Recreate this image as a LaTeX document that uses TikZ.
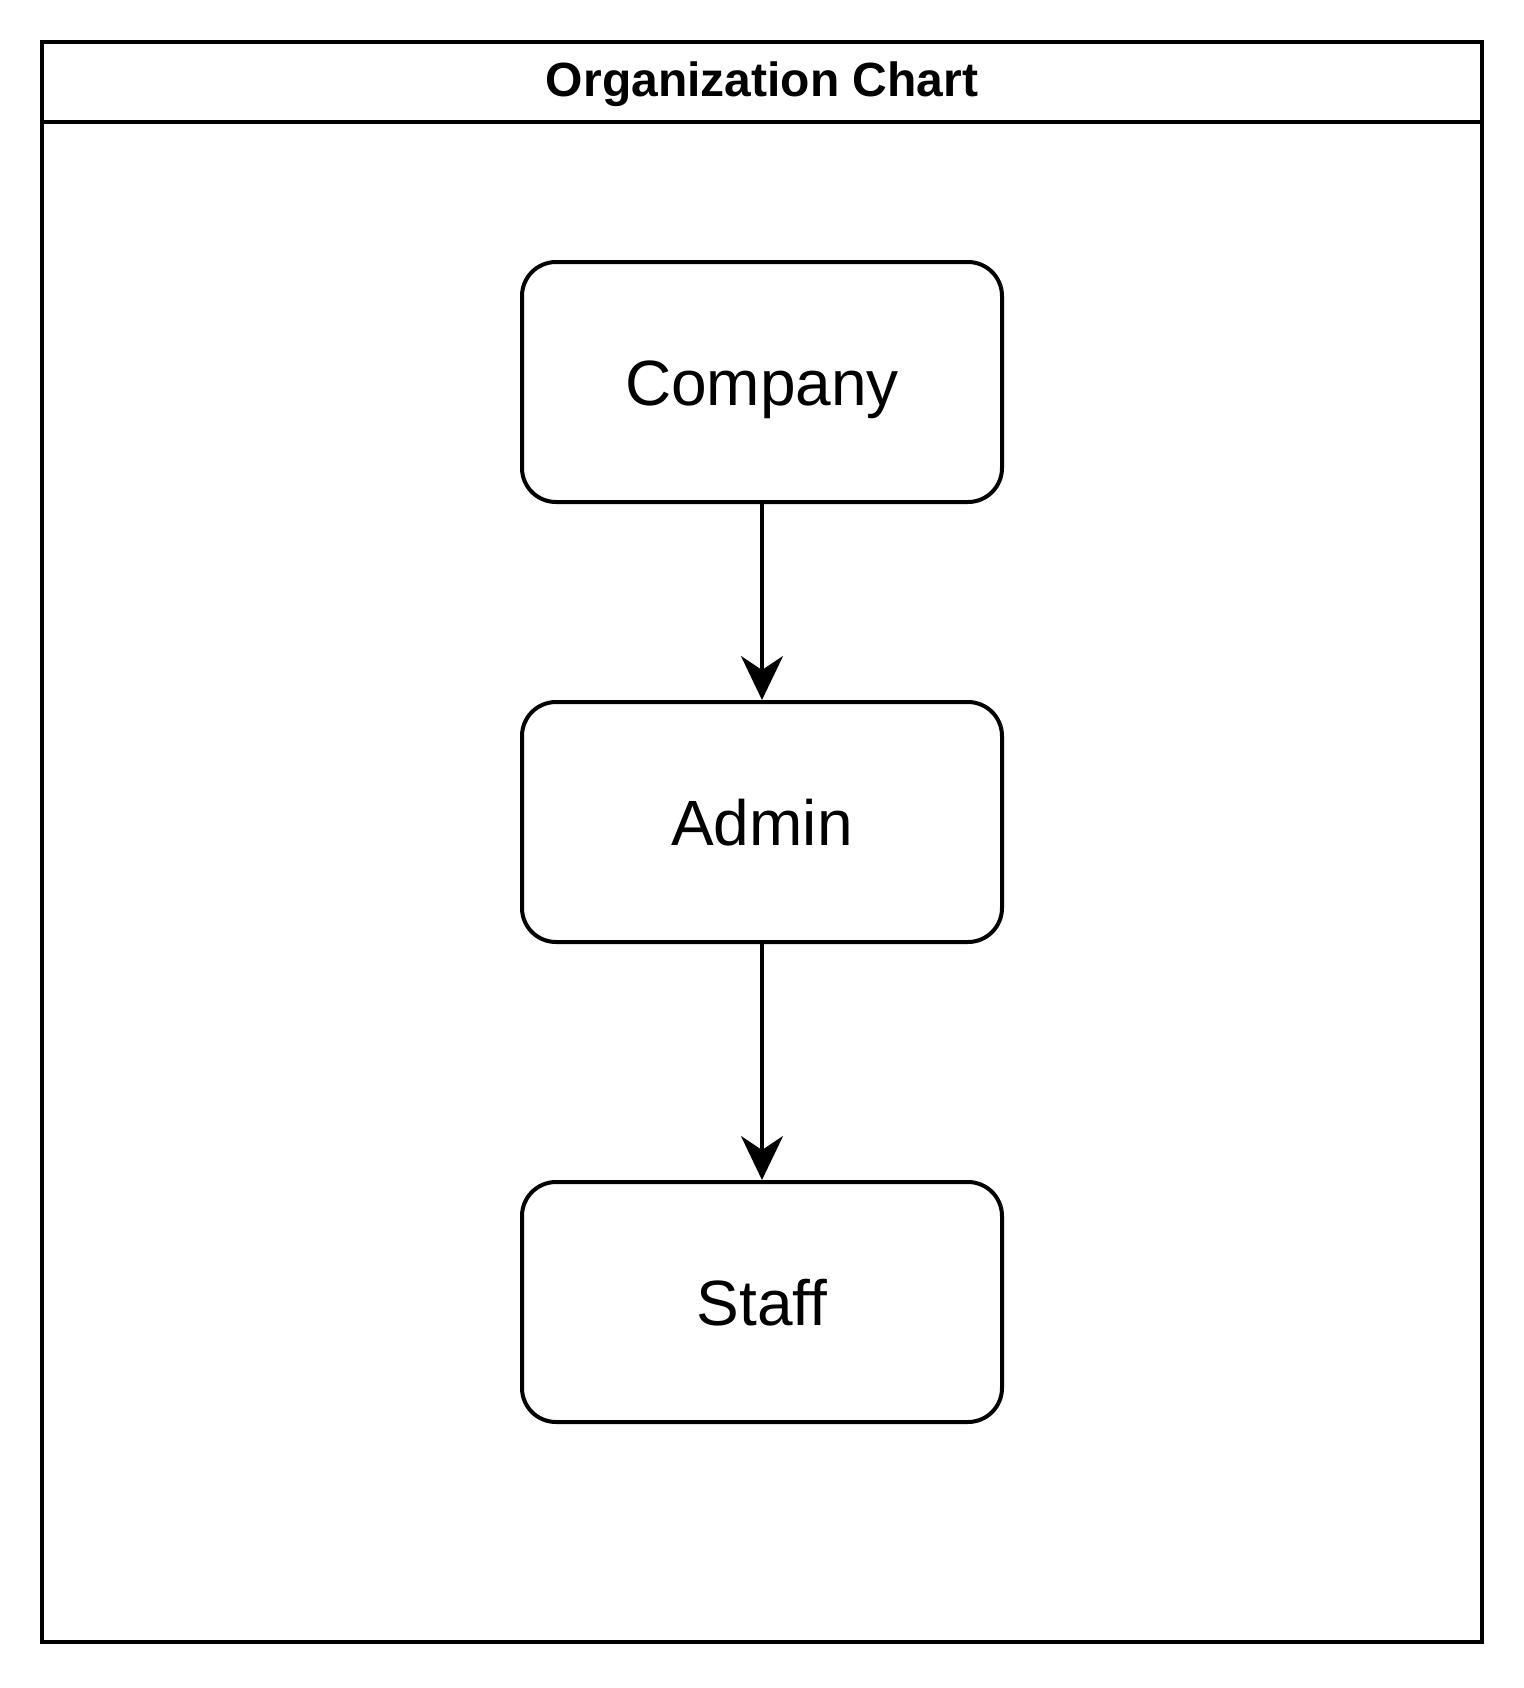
\documentclass[tikz,border=0pt]{standalone}
\usepackage{fontspec}
\setmainfont{Liberation Sans}
\usetikzlibrary{arrows.meta}
\begin{document}
\begin{tikzpicture}[x=0.5pt,y=-0.5pt,
  orgbox/.style={draw,line width=2pt,rounded corners=17pt,minimum width=240pt,minimum height=120pt,inner sep=0pt,text height=23.4pt,text depth=0pt,font=\fontsize{32}{38}\selectfont},
  conn/.style={line width=1.7pt,-{Stealth[length=22pt,width=21pt,inset=7pt]}}]
\useasboundingbox (0,0) rectangle (1524,1688);
\draw[line width=2pt] (42,42) rectangle (1482,1642);
\draw[line width=2pt] (42,122) -- (1482,122);
\node[font=\bfseries\fontsize{24}{29}\selectfont,text height=17.5pt,text depth=0pt] (title) at (762,79) {Organization Chart};
\node[orgbox] (company) at (762,382) {Company};
\node[orgbox] (admin) at (762,822) {Admin};
\node[orgbox] (staff) at (762,1302) {Staff};
\draw[conn] (company.south) -- (admin.north);
\draw[conn] (admin.south) -- (staff.north);
\end{tikzpicture}
\end{document}
